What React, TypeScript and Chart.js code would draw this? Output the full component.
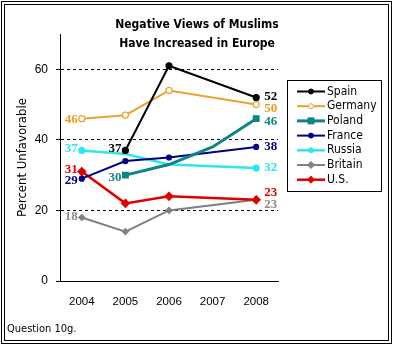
import React, { useEffect, useRef } from 'react';
import { Chart, registerables } from 'chart.js';

Chart.register(...registerables);

const years = ['2004', '2005', '2006', '2007', '2008'];
const countries = ['Spain', 'Germany', 'Poland', 'France', 'Russia', 'Britain', 'U.S.'];

const spain = [null, 37, 61, null, 52];
const germany = [46, 47, 54, null, 50];
const poland = [null, 30, 33, 38, 46];
const france = [29, 34, 35, null, 38];
const russia = [37, 36, 33, null, 32];
const britain = [18, 14, 20, null, 23];
const us = [31, 22, 24, null, 23];

const seriesValues = [spain, germany, poland, france, russia, britain, us];

const yTicks = [0, 20, 40, 60];
const titleLines = ['Negative Views of Muslims', 'Have Increased in Europe'];
const yTitle = 'Percent Unfavorable';
const note = 'Question 10g.';

const sansCond = "'DejaVu Sans Condensed', 'DejaVu Sans', sans-serif";
const arialLike = "'Liberation Sans', Arial, sans-serif";
const serifBold = "'Liberation Serif', 'Times New Roman', serif";

type Style = {
  color: string;
  text: string;
  width: number;
  point: string;
  fill: string;
  radius: number;
  marks: boolean[];
  leftDy: number;
  rightDy: number;
  order: number;
};

const styles: Style[] = [
  { color: '#000000', text: '#000000', width: 2, point: 'circle', fill: '#000000', radius: 3, marks: [true, true, true, true, true], leftDy: -1.5, rightDy: -1, order: 0 },
  { color: '#EBA12E', text: '#E89B1E', width: 2, point: 'circle', fill: '#FFFFFF', radius: 3, marks: [true, true, true, true, true], leftDy: 1, rightDy: 4, order: 0 },
  { color: '#0E8484', text: '#0E8484', width: 3, point: 'rect', fill: '#0E8484', radius: 4, marks: [true, true, false, false, true], leftDy: 2, rightDy: 3, order: 0 },
  { color: '#000080', text: '#000080', width: 2, point: 'circle', fill: '#000080', radius: 2.5, marks: [true, true, true, true, true], leftDy: 2, rightDy: 0, order: 0 },
  { color: '#2EE6F0', text: '#2EE6F0', width: 2.5, point: 'circle', fill: '#2EE6F0', radius: 3, marks: [true, false, false, false, true], leftDy: -2, rightDy: 0, order: 0 },
  { color: '#808080', text: '#8A8A8A', width: 2, point: 'rectRot', fill: '#808080', radius: 3, marks: [true, true, true, true, true], leftDy: -1, rightDy: 5, order: 1 },
  { color: '#E00000', text: '#E00000', width: 2.5, point: 'rectRot', fill: '#E00000', radius: 4, marks: [true, true, true, true, true], leftDy: -2, rightDy: -7, order: 0 },
];

const decorPlugin = {
  id: 'decor',
  beforeDraw(chart: any) {
    const ctx = chart.ctx;
    ctx.save();
    ctx.fillStyle = '#FFFFFF';
    ctx.fillRect(0, 0, chart.width, chart.height);
    ctx.restore();
  },
  afterDatasetsDraw(chart: any) {
    const ctx = chart.ctx;
    ctx.save();
    ctx.textBaseline = 'middle';
    chart.data.datasets.forEach((ds: any, i: number) => {
      const meta = chart.getDatasetMeta(i);
      const vals = seriesValues[i];
      const st = styles[i];
      let first = -1;
      let last = -1;
      vals.forEach((v, j) => {
        if (v !== null) {
          if (first < 0) first = j;
          last = j;
        }
      });
      ctx.font = `bold 13px ${serifBold}`;
      ctx.fillStyle = st.text;
      if (first >= 0) {
        const p = meta.data[first];
        ctx.textAlign = 'right';
        ctx.fillText(String(vals[first]), p.x - 4, p.y + st.leftDy);
      }
      if (last >= 0) {
        const p = meta.data[last];
        ctx.textAlign = 'left';
        ctx.fillText(String(vals[last]), p.x + 8, p.y + st.rightDy);
      }
    });
    ctx.restore();
  },
  afterDraw(chart: any) {
    const ctx = chart.ctx;
    ctx.save();
    // Title
    ctx.fillStyle = '#000000';
    ctx.font = `bold 12px ${sansCond}`;
    ctx.textAlign = 'center';
    ctx.textBaseline = 'alphabetic';
    ctx.fillText(titleLines[0], 197, 28);
    ctx.fillText(titleLines[1], 197, 47);

    // Legend
    const lx = 287.5, ly = 80.5, lw = 94, lh = 111;
    ctx.strokeStyle = '#000000';
    ctx.lineWidth = 1;
    ctx.strokeRect(lx, ly, lw, lh);
    ctx.font = `12px ${sansCond}`;
    ctx.textAlign = 'left';
    ctx.textBaseline = 'middle';
    countries.forEach((name, i) => {
      const st = styles[i];
      const y = 91.5 + i * 14.7;
      ctx.strokeStyle = st.color;
      ctx.lineWidth = st.width;
      ctx.beginPath();
      ctx.moveTo(297, y);
      ctx.lineTo(325, y);
      ctx.stroke();
      const cx = 311;
      ctx.fillStyle = st.fill;
      ctx.strokeStyle = st.color;
      ctx.lineWidth = 1;
      ctx.beginPath();
      if (st.point === 'circle') {
        ctx.arc(cx, y, 2.5, 0, Math.PI * 2);
      } else if (st.point === 'rect') {
        ctx.rect(cx - 3, y - 3, 6, 6);
      } else {
        ctx.moveTo(cx, y - 3.5);
        ctx.lineTo(cx + 3.5, y);
        ctx.lineTo(cx, y + 3.5);
        ctx.lineTo(cx - 3.5, y);
        ctx.closePath();
      }
      ctx.fill();
      ctx.stroke();
      ctx.fillStyle = '#000000';
      ctx.fillText(name, 327, y);
    });

    // Note
    ctx.font = `11px ${sansCond}`;
    ctx.fillStyle = '#000000';
    ctx.textAlign = 'left';
    ctx.textBaseline = 'middle';
    ctx.fillText(note, 7, 329);

    // Frame
    ctx.strokeStyle = '#000000';
    ctx.lineWidth = 1;
    ctx.strokeRect(1.5, 1.5, 390, 342);
    ctx.strokeRect(4.5, 4.5, 384, 336);
    ctx.restore();
  },
};

export default function App() {
  const canvasRef = useRef<HTMLCanvasElement | null>(null);

  useEffect(() => {
    document.body.style.margin = '0';
    const canvas = canvasRef.current;
    if (!canvas) return;
    const chart = new Chart(canvas, {
      type: 'line',
      data: {
        labels: years,
        datasets: countries.map((name, i) => {
          const st = styles[i];
          return {
            label: name,
            data: seriesValues[i],
            borderColor: st.color,
            backgroundColor: st.fill,
            borderWidth: st.width,
            pointStyle: st.point as any,
            pointRadius: st.marks.map((m) => (m ? st.radius : 0)),
            pointHoverRadius: st.marks.map((m) => (m ? st.radius : 0)),
            pointBackgroundColor: st.fill,
            pointBorderColor: st.color,
            pointBorderWidth: 1.2,
            spanGaps: true,
            tension: 0,
            fill: false,
            order: st.order,
          };
        }),
      },
      options: {
        responsive: false,
        animation: false,
        events: [],
        layout: { padding: { left: 0, top: 34, right: 115, bottom: 0 } },
        plugins: {
          legend: { display: false },
          title: { display: false },
          tooltip: { enabled: false },
        },
        scales: {
          x: {
            offset: true,
            grid: { display: false, drawTicks: false },
            border: { display: true, color: '#000000', width: 1 },
            ticks: {
              color: '#000000',
              font: { family: arialLike, size: 11.5 },
              padding: 14,
              maxRotation: 0,
              autoSkip: false,
            },
            afterFit: (s: any) => {
              s.height = 64;
            },
          },
          y: {
            min: 0,
            max: 70,
            afterBuildTicks: (s: any) => {
              s.ticks = yTicks.map((v) => ({ value: v }));
            },
            afterFit: (s: any) => {
              s.width = 60;
            },
            ticks: {
              color: '#000000',
              font: { family: arialLike, size: 12 },
              padding: 8,
            },
            grid: {
              color: '#000000',
              lineWidth: 1,
              drawTicks: true,
              tickLength: 4,
              tickColor: '#000000',
            },
            border: { display: true, color: '#000000', width: 1, dash: [3, 3] },
            title: {
              display: true,
              text: yTitle,
              color: '#000000',
              font: { family: sansCond, size: 13 },
              padding: { top: 15, bottom: 0 },
            },
          },
        },
      },
      plugins: [decorPlugin],
    });
    return () => {
      chart.destroy();
    };
  }, []);

  return (
    <div style={{ position: 'absolute', left: 0, top: 0, width: 393, height: 345 }}>
      <canvas ref={canvasRef} width={393} height={345} />
    </div>
  );
}
